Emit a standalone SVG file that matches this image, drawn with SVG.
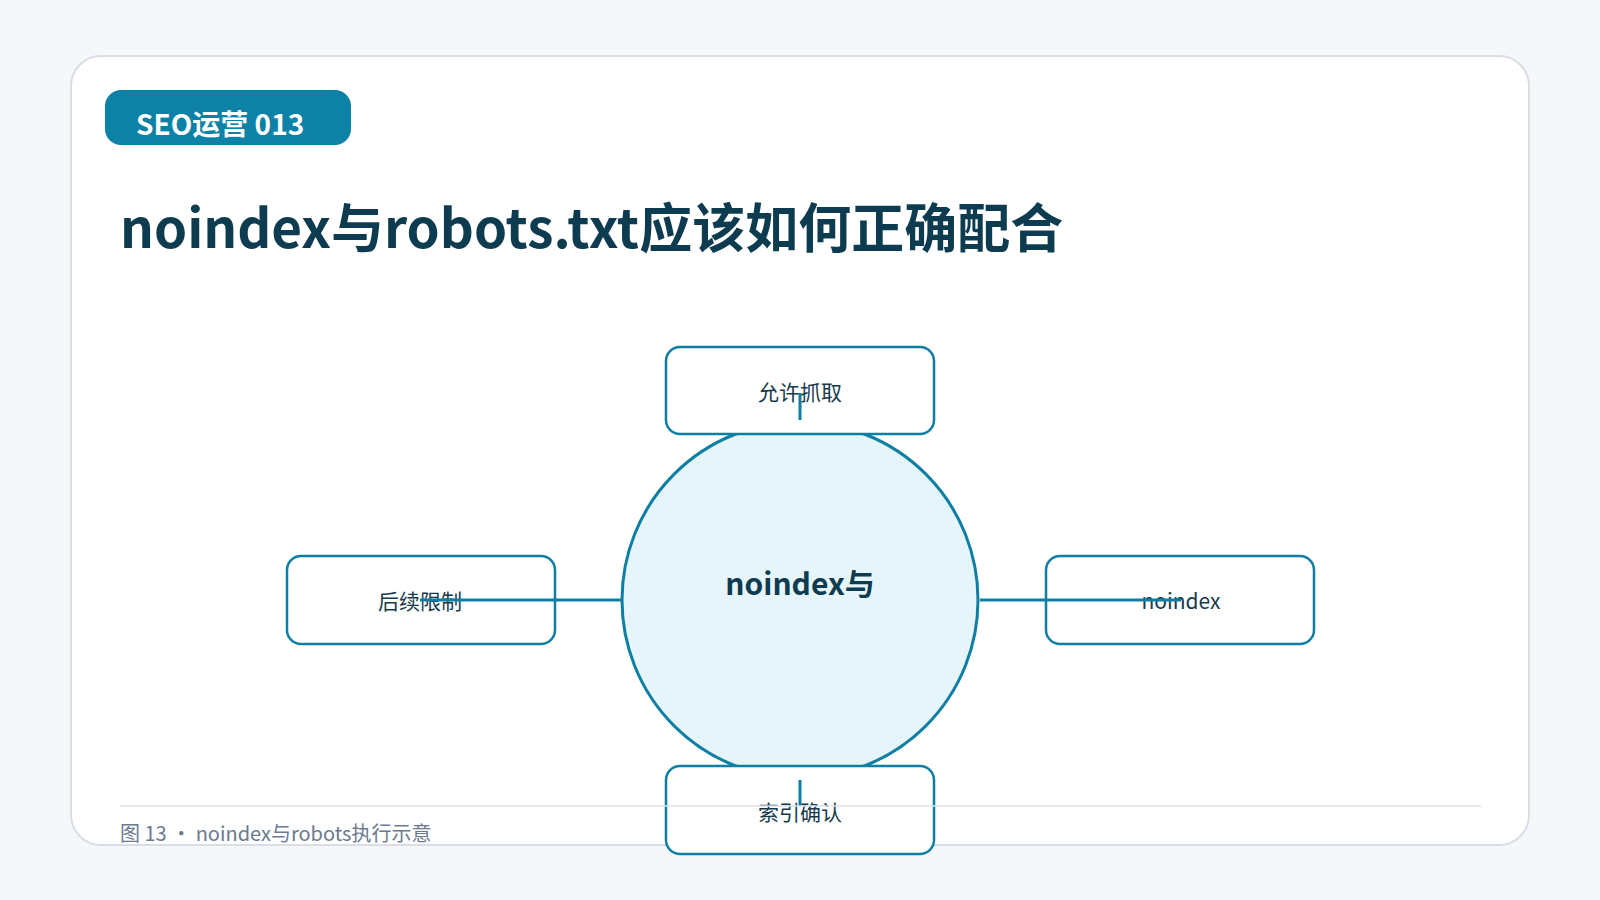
<svg xmlns="http://www.w3.org/2000/svg" width="1600" height="900" viewBox="0 0 1600 900">
<style>
.box{fill:#fff;stroke:#0e7fa3;stroke-width:2.5}
.lbl{font-family:"Noto Sans CJK SC","Noto Sans",sans-serif;font-size:21px;fill:#163a4a;text-anchor:middle}
.con{stroke:#0e7fa3;stroke-width:3;fill:none}
</style>
<rect width="1600" height="900" fill="#f5f7fb"/>
<rect x="71" y="56" width="1458" height="789" rx="30" fill="#fff" stroke="#d8dde6" stroke-width="2"/>
<g id="badge"><rect x="105" y="90" width="246" height="55" rx="16" fill="#0e82a6"/>
<text x="136" y="135" font-family="'Noto Sans CJK SC','Noto Sans',sans-serif" font-size="28" font-weight="700" fill="#fff">SEO运营 013</text></g>
<text x="120" y="248" font-family="'Noto Sans CJK SC','Noto Sans',sans-serif" font-size="53" font-weight="700" fill="#0d3b4f">noindex与robots.txt应该如何正确配合</text>
<g id="center"><circle cx="800" cy="600" r="178" fill="#e5f5fa" stroke="#0e7fa3" stroke-width="3"/>
<text x="800" y="595" text-anchor="middle" font-family="'Noto Sans CJK SC','Noto Sans',sans-serif" font-size="30" font-weight="700" fill="#0d3b4f">noindex与</text></g>
<g id="n-top"><rect class="box" x="666" y="347" width="268" height="87" rx="14"/><text class="lbl" x="800" y="400">允许抓取</text></g>
<g id="n-left"><rect class="box" x="287" y="556" width="268" height="88" rx="14"/><text class="lbl" x="420" y="609">后续限制</text></g>
<g id="n-right"><rect class="box" x="1046" y="556" width="268" height="88" rx="14"/><text class="lbl" x="1181" y="609">noindex</text></g>
<g id="n-bottom"><rect class="box" x="666" y="766" width="268" height="88" rx="14"/><text class="lbl" x="800" y="820">索引确认</text></g>
<g id="connectors">
<line class="con" x1="420" y1="600" x2="622" y2="600"/>
<line class="con" x1="980" y1="600" x2="1181" y2="600"/>
<line class="con" x1="800" y1="393" x2="800" y2="420"/>
<line class="con" x1="800" y1="780" x2="800" y2="806"/>
</g>
<line x1="120" y1="806" x2="1481" y2="806" stroke="#dde2ea" stroke-width="1.5"/>
<text x="120" y="841" font-family="'Noto Sans CJK SC','Noto Sans',sans-serif" font-size="20" fill="#6b7a8f">图 13 · noindex与robots执行示意</text>
</svg>
